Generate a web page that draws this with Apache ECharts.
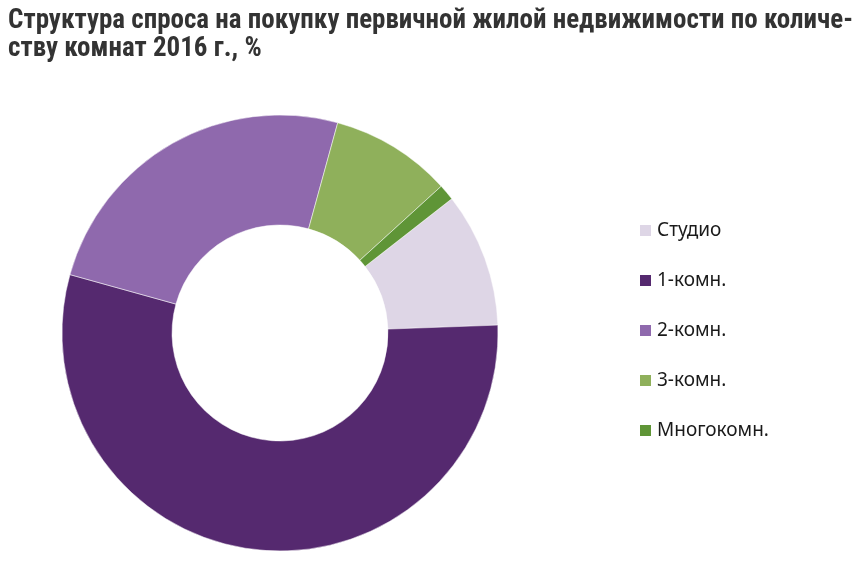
<!DOCTYPE html>
<html><head><meta charset="utf-8">
<script src="https://cdn.jsdelivr.net/npm/echarts@6/dist/echarts.min.js"></script>
<style>html,body{margin:0;padding:0;background:#fff}#c{width:865px;height:574px}</style>
</head><body><div id="c"></div>
<script>
const titleText = 'Структура спроса на покупку первичной жилой недвижимости по количе-\nству комнат 2016 г., %';
const categories = ['Студио', '1-комн.', '2-комн.', '3-комн.', 'Многокомн.'];
const values = [10, 55, 25, 9, 1.2];
const colors = ['#ded6e6', '#55296f', '#8f69ad', '#8fb05b', '#5f9537'];

const chart = echarts.init(document.getElementById('c'));
chart.setOption({
  backgroundColor: '#fff',
  animation: false,
  title: {
    text: titleText,
    left: 3, top: 2,
    textStyle: {fontFamily: '"Liberation Sans Narrow", "Roboto Condensed", "DejaVu Sans Condensed", sans-serif', fontWeight: 'bold', fontSize: 27, color: '#333', lineHeight: 28}
  },
  legend: {
    orient: 'vertical', left: 633, top: 216,
    itemWidth: 13, itemHeight: 13, itemGap: 31,
    icon: 'rect',
    textStyle: {fontFamily: '"Noto Sans", sans-serif', fontSize: 19, color: '#1a1a1a'},
    data: categories
  },
  series: [{
    type: 'pie',
    center: [280, 333],
    radius: [108, 218],
    startAngle: 38,
    clockwise: true,
    label: {show: false},
    labelLine: {show: false},
    itemStyle: {borderColor: '#fff', borderWidth: 0.5},
    data: categories.map((n, i) => ({name: n, value: values[i], itemStyle: {color: colors[i]}}))
  }]
});
</script></body></html>
